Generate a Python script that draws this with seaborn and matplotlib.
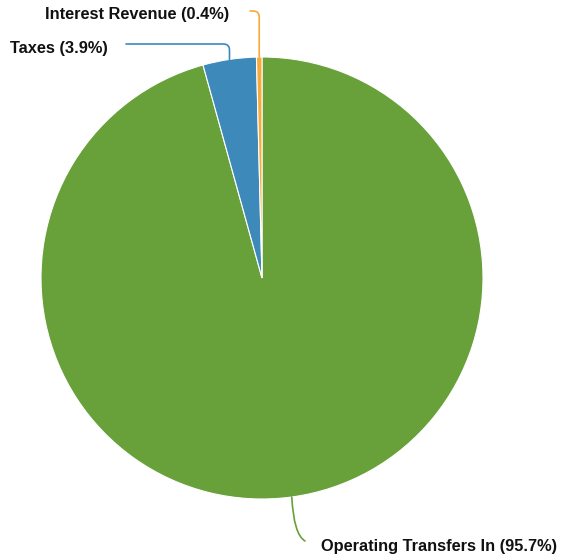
import numpy as np
import matplotlib
matplotlib.use("Agg")
import matplotlib.pyplot as plt
import seaborn as sns

# --- Data ---
categories = ["Operating Transfers In", "Taxes", "Interest Revenue"]
shares = [95.7, 3.9, 0.4]
slice_colors = ["#68a03a", "#3c89ba", "#f7a93b"]

# label placement (pixel space, y up) and leader line ends
label_pos = [(321, 13), (10, 511), (45, 544)]
line_end = [(305, 18), (126, 515), (250, 548)]
line_style = [
    "angle3,angleA=150,angleB=93",
    "angle,angleA=0,angleB=90,rad=6",
    "angle,angleA=0,angleB=90,rad=6",
]

sns.set_theme(style="white")
plt.rcParams["font.family"] = ["Liberation Sans", "DejaVu Sans"]

W, H = 562, 559
fig = plt.figure(figsize=(W / 100, H / 100), dpi=100)
ax = fig.add_axes([0, 0, 1, 1])

cx, cy, r = 262, 281, 221
wedges, _ = ax.pie(
    shares,
    colors=slice_colors,
    startangle=90,
    counterclock=False,
    center=(cx, cy),
    radius=r,
    wedgeprops=dict(edgecolor="white", linewidth=0.8),
    frame=True,
)
ax.set_xlim(0, W)
ax.set_ylim(0, H)
ax.set_aspect("equal")
ax.axis("off")

total = sum(shares)
for i, w in enumerate(wedges):
    mid = np.deg2rad((w.theta1 + w.theta2) / 2)
    px, py = cx + r * np.cos(mid), cy + r * np.sin(mid)
    ax.annotate(
        "",
        xy=(px, py),
        xytext=line_end[i],
        arrowprops=dict(
            arrowstyle="-",
            color=slice_colors[i],
            lw=1.2,
            shrinkA=0,
            shrinkB=0,
            connectionstyle=line_style[i],
        ),
    )
    pct = shares[i] / total * 100
    ax.text(
        label_pos[i][0],
        label_pos[i][1],
        f"{categories[i]} ({pct:.1f}%)",
        ha="left",
        va="center",
        fontsize=11.8,
        fontweight="bold",
        color="#111111",
    )

fig.savefig("out.png", dpi=100)
